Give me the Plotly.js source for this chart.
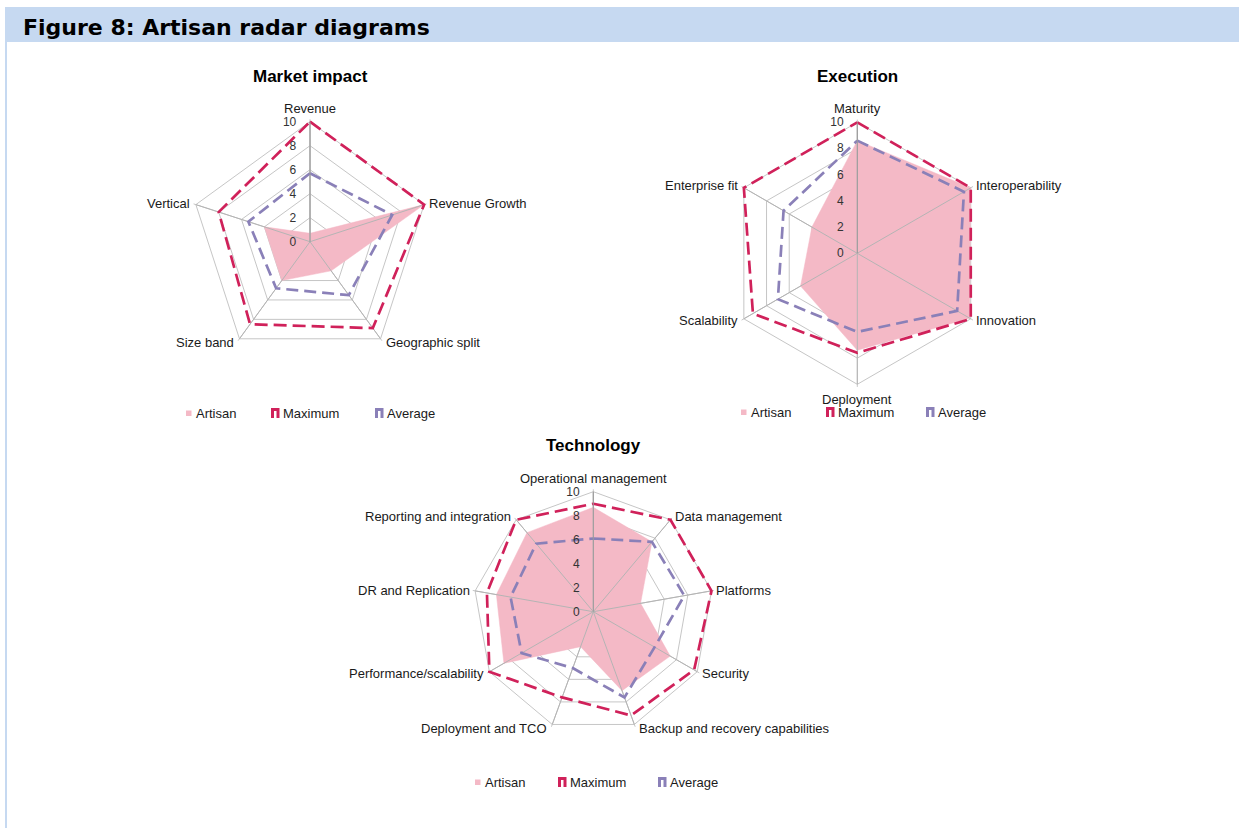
<!DOCTYPE html>
<html>
<head>
<meta charset="utf-8">
<script src="https://cdn.plot.ly/plotly-3.0.1.min.js"></script>
<style>
html,body{margin:0;padding:0;background:#ffffff;}
#chart{width:1239px;height:828px;}
</style>
</head>
<body>
<div id="chart"></div>
<script>
// ---------- data ----------
const marketCategories = ['Revenue', 'Revenue Growth', 'Geographic split', 'Size band', 'Vertical'];
const marketArtisan = [0.7, 10, 3, 4, 4];
const marketMaximum = [10, 10, 8.9, 8.5, 8];
const marketAverage = [5.7, 7.2, 5.5, 4.8, 5.4];

const executionCategories = ['Maturity', 'Interoperability', 'Innovation', 'Deployment', 'Scalability', 'Enterprise fit'];
const executionArtisan = [8.6, 10, 9.9, 7.4, 5, 4];
const executionMaximum = [10, 10, 10, 7.6, 9.2, 10];
const executionAverage = [8.6, 9.4, 8.8, 6, 7, 6.5];

const technologyCategories = ['Operational management', 'Data management', 'Platforms', 'Security',
  'Backup and recovery capabilities', 'Deployment and TCO', 'Performance/scalability',
  'DR and Replication', 'Reporting and integration'];
const technologyArtisan = [8.7, 7.6, 4, 7.4, 7.0, 3.1, 8.6, 8.2, 8.6];
const technologyMaximum = [9.0, 10, 10, 9.7, 9.2, 7.6, 10, 9, 10];
const technologyAverage = [6.1, 7.6, 7.7, 5.9, 7.6, 5.0, 6.9, 7.0, 7.4];

const seriesNames = ['Artisan', 'Maximum', 'Average'];
const radialTicks = [0, 2, 4, 6, 8, 10];

// ---------- styling ----------
const W = 1239, H = 828;
const PINK = '#F4B9C6';
const CRIMSON = '#D0215A';
const PURPLE = '#8A80B8';
const GRID = '#C6C6C6';
const SPOKE = '#B4B4B4';
const TXT = '#1a1a1a';
const FONT = 'Liberation Sans, Arial, sans-serif';
const RMAX = radialTicks[radialTicks.length - 1];
const RPAD = 1.02;               // a little room so strokes on the outer ring are not clipped
const RANGE_TOP = RMAX * RPAD;

const px = x => x / W;
const py = y => 1 - y / H;

const charts = [
  {id: 'polar',  title: 'Market impact', cats: marketCategories, a: marketArtisan, m: marketMaximum, v: marketAverage,
   cx: 310, cy: 241.7, R: 120, ty: 77, legY: 413, leg: [186, 271, 375]},
  {id: 'polar2', title: 'Execution', cats: executionCategories, a: executionArtisan, m: executionMaximum, v: executionAverage,
   cx: 857.3, cy: 253.3, R: 131, ty: 77, legY: 412, leg: [741, 826, 926]},
  {id: 'polar3', title: 'Technology', cats: technologyCategories, a: technologyArtisan, m: technologyMaximum, v: technologyAverage,
   cx: 593.3, cy: 611.7, R: 120, ty: 446, legY: 782, leg: [475, 558, 658]}
];

const close = arr => arr.concat([arr[0]]);
const traces = [];
const layout = {
  width: W, height: H,
  margin: {l: 0, r: 0, t: 0, b: 0, pad: 0},
  paper_bgcolor: '#ffffff',
  showlegend: false,
  font: {family: FONT, color: TXT},
  shapes: [],
  annotations: []
};

// title bar
layout.shapes.push({type: 'rect', xref: 'paper', yref: 'paper', x0: px(5), x1: 1, y0: py(42), y1: py(7),
  fillcolor: '#C6D9F1', line: {width: 0}, layer: 'below'});
layout.shapes.push({type: 'rect', xref: 'paper', yref: 'paper', x0: px(5), x1: px(7), y0: 0, y1: py(42),
  fillcolor: '#C6D9F1', line: {width: 0}, layer: 'below'});
layout.annotations.push({xref: 'paper', yref: 'paper', x: px(21), y: py(27), xanchor: 'left', yanchor: 'middle',
  showarrow: false, text: '<b>Figure 8: Artisan radar diagrams</b>',
  font: {family: 'DejaVu Sans, sans-serif', size: 22, color: '#000000'}});

charts.forEach(c => {
  traces.push({type: 'scatterpolar', subplot: c.id, name: seriesNames[0], mode: 'lines',
    r: close(c.a), theta: close(c.cats), fill: 'toself', fillcolor: PINK,
    line: {color: PINK, width: 0.5}, hoverinfo: 'skip'});
  c.cats.forEach(cat => {
    traces.push({type: 'scatterpolar', subplot: c.id, mode: 'lines', r: [0, RMAX], theta: [cat, cat],
      line: {color: SPOKE, width: 1}, hoverinfo: 'skip'});
  });
  traces.push({type: 'scatterpolar', subplot: c.id, name: seriesNames[1], mode: 'lines',
    r: close(c.m), theta: close(c.cats), line: {color: CRIMSON, width: 2.7, dash: '13px,6px'}});
  traces.push({type: 'scatterpolar', subplot: c.id, name: seriesNames[2], mode: 'lines',
    r: close(c.v), theta: close(c.cats), line: {color: PURPLE, width: 2.7, dash: '12px,6px'}});

  const Rd = c.R * RPAD;
  layout[c.id] = {
    domain: {x: [px(c.cx - Rd), px(c.cx + Rd)], y: [py(c.cy + Rd), py(c.cy - Rd)]},
    bgcolor: 'rgba(0,0,0,0)',
    gridshape: 'linear',
    radialaxis: {range: [0, RANGE_TOP], tickvals: radialTicks, angle: 90, side: 'counterclockwise', tickangle: 90,
      showline: false, gridcolor: GRID,
      ticks: 'outside', ticklen: 9, tickcolor: 'rgba(0,0,0,0)',
      tickfont: {family: FONT, size: 12, color: '#333333'}, layer: 'above traces'},
    angularaxis: {type: 'category', categoryarray: c.cats, rotation: 90, direction: 'clockwise',
      gridcolor: GRID, showline: false, ticks: '', showticklabels: false}
  };

  // the value axis line (drawn over the fill like the category spokes)
  traces.push({type: 'scatterpolar', subplot: c.id, mode: 'lines', r: [0, RMAX], theta: [c.cats[0], c.cats[0]],
    line: {color: '#9A9A9A', width: 1}, hoverinfo: 'skip'});

  // category labels placed around the polygon vertices
  const n = c.cats.length;
  c.cats.forEach((cat, i) => {
    const th = (90 - i * 360 / n) * Math.PI / 180;
    const cs = Math.cos(th), sn = Math.sin(th);
    const vx = c.cx + c.R * cs, vy = c.cy - c.R * sn;
    let ann = {xref: 'paper', yref: 'paper', showarrow: false, text: cat,
      font: {family: FONT, size: 13, color: TXT}, yanchor: 'middle'};
    if (Math.abs(cs) < 0.1) {
      ann.x = px(vx); ann.xanchor = 'center';
      ann.y = py(sn > 0 ? vy - 13.5 : vy + 15.5);
    } else {
      ann.x = px(cs > 0 ? vx + 3 : vx - 3.5);
      ann.xanchor = cs > 0 ? 'left' : 'right';
      ann.y = py(vy - 4 * sn);
    }
    layout.annotations.push(ann);
  });

  layout.annotations.push({xref: 'paper', yref: 'paper', x: px(c.cx), y: py(c.ty), xanchor: 'center', yanchor: 'middle',
    showarrow: false, text: '<b>' + c.title + '</b>', font: {family: FONT, size: 17, color: '#000000'}});

  // legend
  const y = c.legY;
  const [ax, mx, vx] = c.leg;
  layout.shapes.push({type: 'rect', xref: 'paper', yref: 'paper', x0: px(ax), x1: px(ax + 5.5), y0: py(y + 3), y1: py(y - 2.5),
    fillcolor: PINK, line: {width: 0}});
  [[mx, CRIMSON], [vx, PURPLE]].forEach(([x0, col]) => {
    const path = 'M ' + px(x0 + 1.5) + ' ' + py(y + 5) + ' L ' + px(x0 + 1.5) + ' ' + py(y - 3.5) +
      ' L ' + px(x0 + 7) + ' ' + py(y - 3.5) + ' L ' + px(x0 + 7) + ' ' + py(y + 5);
    layout.shapes.push({type: 'path', xref: 'paper', yref: 'paper', path: path, line: {color: col, width: 3}});
  });
  [[ax + 7.5, seriesNames[0]], [mx + 9.5, seriesNames[1]], [vx + 9.5, seriesNames[2]]].forEach(([x, t]) => {
    layout.annotations.push({xref: 'paper', yref: 'paper', x: px(x), y: py(y), xanchor: 'left', yanchor: 'middle',
      showarrow: false, text: t, font: {family: FONT, size: 13, color: TXT}});
  });
});

Plotly.newPlot('chart', traces, layout, {displayModeBar: false, staticPlot: true});
</script>
</body>
</html>
